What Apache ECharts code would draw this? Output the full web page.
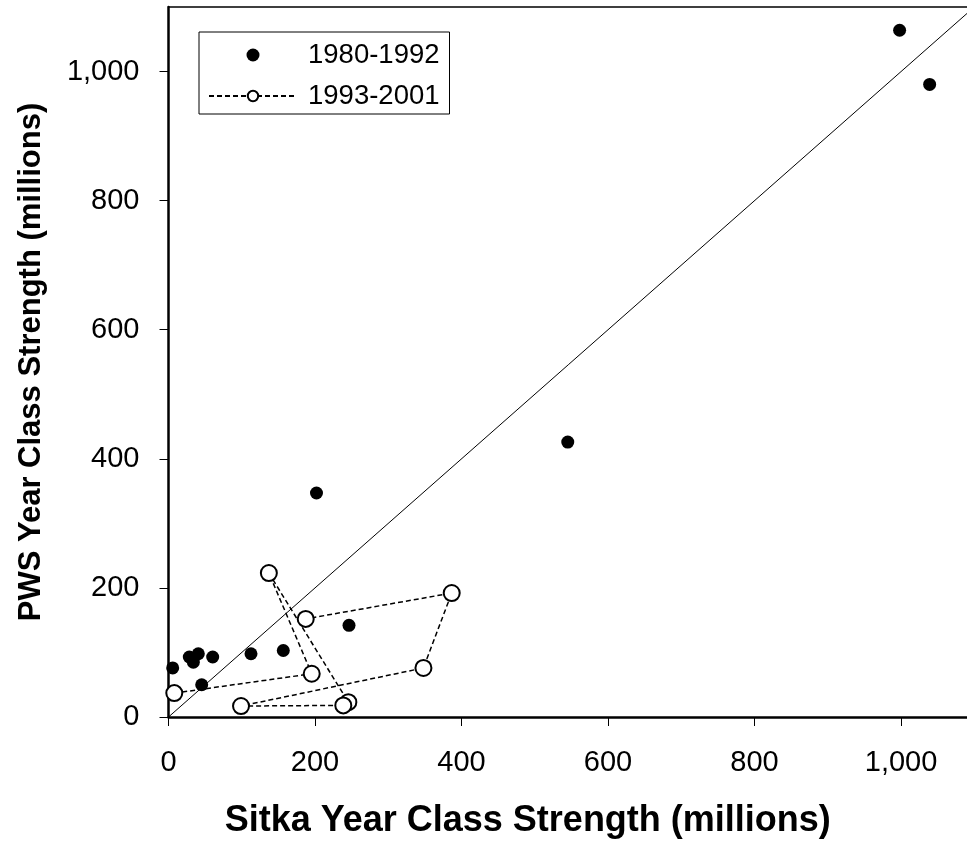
<!DOCTYPE html>
<html>
<head>
<meta charset="utf-8">
<title>Sitka vs PWS year class strength</title>
<script src="https://cdn.jsdelivr.net/npm/echarts@6/dist/echarts.min.js"></script>
<style>
html, body { margin: 0; padding: 0; background: #fff; }
#container { width: 967px; height: 844px; }
</style>
</head>
<body>
<div id="container"></div>
<script>
// 1980-1992 year classes, [Sitka, PWS] in millions
var early = [[5.7, 76], [28.4, 93], [33.9, 85], [40.7, 98], [45.3, 50], [60.3, 93],
    [112.6, 98], [156.7, 103], [202, 347], [246.4, 142], [545, 426], [998, 1064], [1039, 980]];
// 1993-2001 year classes, in the order the dashed line joins them
var late = [[7.9, 37], [195.5, 67], [137, 223], [245.5, 23], [238.6, 18], [99, 17],
    [348, 76], [386.6, 192], [187.3, 152]];
// 1:1 reference line
var oneToOne = [[0, 0], [1100, 1100]];
var ticks = [0, 200, 400, 600, 800, 1000];

function fmt(v) {
    if (v >= 1000) return Math.floor(v / 1000) + ',' + ('00' + (v % 1000)).slice(-3);
    return String(v);
}

var myChart = echarts.init(document.getElementById('container'));
var option = {
    animation: false,
    textStyle: { fontFamily: 'Liberation Sans, Arial, sans-serif', color: '#000' },
    grid: { left: 168.5, top: 7, right: 0, bottom: 126.5 },
    legend: {
        data: ['1980-1992', '1993-2001'],
        orient: 'vertical',
        left: 199,
        top: 32,
        padding: [9, 10, 4, 9],
        itemGap: 13,
        itemWidth: 88,
        itemHeight: 13,
        borderColor: '#000',
        borderWidth: 1,
        textStyle: { fontSize: 27.5, color: '#000', padding: [0, 0, 0, 6] }
    },
    xAxis: [
        {
            type: 'value',
            min: 0,
            max: 1090,
            splitLine: { show: false },
            axisLine: { onZero: false, lineStyle: { color: '#000', width: 2.5 } },
            axisTick: { customValues: ticks, length: 9, lineStyle: { color: '#000', width: 1 } },
            axisLabel: { customValues: ticks, formatter: fmt, fontSize: 29, color: '#000', margin: 31 },
            name: 'Sitka Year Class Strength (millions)',
            nameLocation: 'middle',
            nameGap: 86,
            nameTextStyle: { fontSize: 36, fontWeight: 'bold', color: '#000', padding: [0, 80, 0, 0] }
        },
        {
            type: 'value',
            position: 'top',
            min: 0,
            max: 1090,
            splitLine: { show: false },
            axisLine: { onZero: false, lineStyle: { color: '#000', width: 1.5 } },
            axisTick: { show: false },
            axisLabel: { show: false }
        }
    ],
    yAxis: {
        type: 'value',
        min: 0,
        max: 1100,
        splitLine: { show: false },
        axisLine: { onZero: false, lineStyle: { color: '#000', width: 2.5 } },
        axisTick: { customValues: ticks, length: 9, lineStyle: { color: '#000', width: 1 } },
        axisLabel: { customValues: ticks, formatter: fmt, fontSize: 29, color: '#000', margin: 29 },
        name: 'PWS Year Class Strength (millions)',
        nameLocation: 'middle',
        nameGap: 122,
        nameTextStyle: { fontSize: 31, fontWeight: 'bold', color: '#000' }
    },
    series: [
        {
            name: '1:1',
            type: 'line',
            data: oneToOne,
            symbol: 'none',
            clip: true,
            silent: true,
            z: 1,
            lineStyle: { color: '#000', width: 1 }
        },
        {
            name: '1993-2001',
            type: 'line',
            data: late,
            symbol: 'emptyCircle',
            symbolSize: 16,
            itemStyle: { color: '#000', borderWidth: 1.5 },
            lineStyle: { color: '#000', width: 1.5, type: [5, 3] }
        },
        {
            name: '1980-1992',
            type: 'scatter',
            data: early,
            symbol: 'circle',
            symbolSize: 13,
            itemStyle: { color: '#000', opacity: 1 }
        }
    ]
};
myChart.setOption(option);
</script>
</body>
</html>
